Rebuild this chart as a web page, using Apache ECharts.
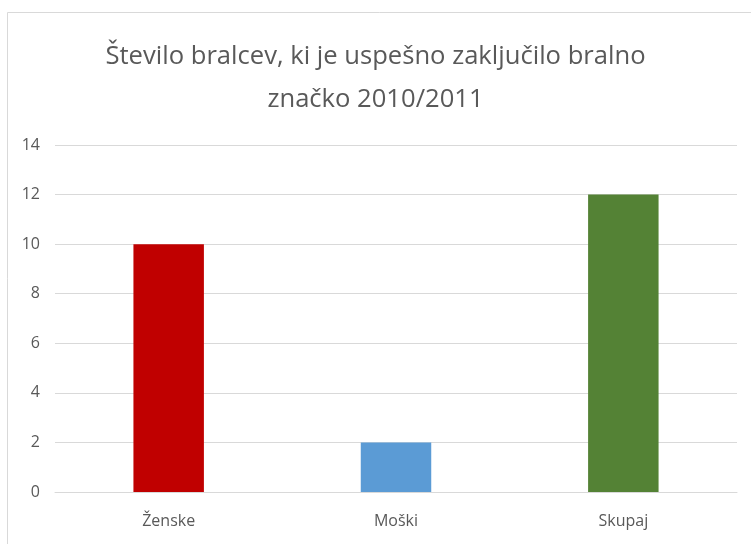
<!DOCTYPE html>
<html><head><meta charset="utf-8">
<script src="https://cdn.jsdelivr.net/npm/echarts@6/dist/echarts.min.js"></script>
<style>html,body{margin:0;padding:0;background:#fff}#c{width:751px;height:544px}</style>
</head><body><div id="c"></div>
<script>
const categories = ['Ženske', 'Moški', 'Skupaj'];
const values = [10, 2, 12];
const barColors = ['#C00000', '#5B9BD5', '#548235'];
const titleText = 'Število bralcev, ki je uspešno zaključilo bralno\nznačko 2010/2011';

const chart = echarts.init(document.getElementById('c'));
const font = '"Open Sans", sans-serif';
chart.setOption({
  animation: false,
  backgroundColor: '#fff',
  graphic: [{
    type: 'rect', left: 5, top: 10, shape: { width: 760, height: 540 },
    style: { fill: 'none', stroke: '#d9d9d9', lineWidth: 1 }, silent: true
  }],
  title: {
    text: titleText, left: 'center', top: 30,
    textStyle: { fontFamily: font, fontSize: 25.6, fontWeight: 'normal', color: '#595959', lineHeight: 43 }
  },
  grid: { left: 55, right: 14, top: 145, bottom: 52, containLabel: false },
  xAxis: {
    type: 'category', data: categories,
    axisLine: { lineStyle: { color: '#d9d9d9', width: 1 } },
    axisTick: { show: false },
    axisLabel: { color: '#595959', fontFamily: font, fontSize: 16, margin: 21 }
  },
  yAxis: {
    type: 'value', min: 0, max: 14, interval: 2,
    axisLine: { show: false }, axisTick: { show: false },
    splitLine: { lineStyle: { color: '#d9d9d9', width: 1 } },
    axisLabel: { color: '#595959', fontFamily: font, fontSize: 16, margin: 15 }
  },
  series: [{
    type: 'bar', barWidth: '31%',
    data: values.map((v, i) => ({ value: v, itemStyle: { color: barColors[i] } }))
  }]
});
</script></body></html>
